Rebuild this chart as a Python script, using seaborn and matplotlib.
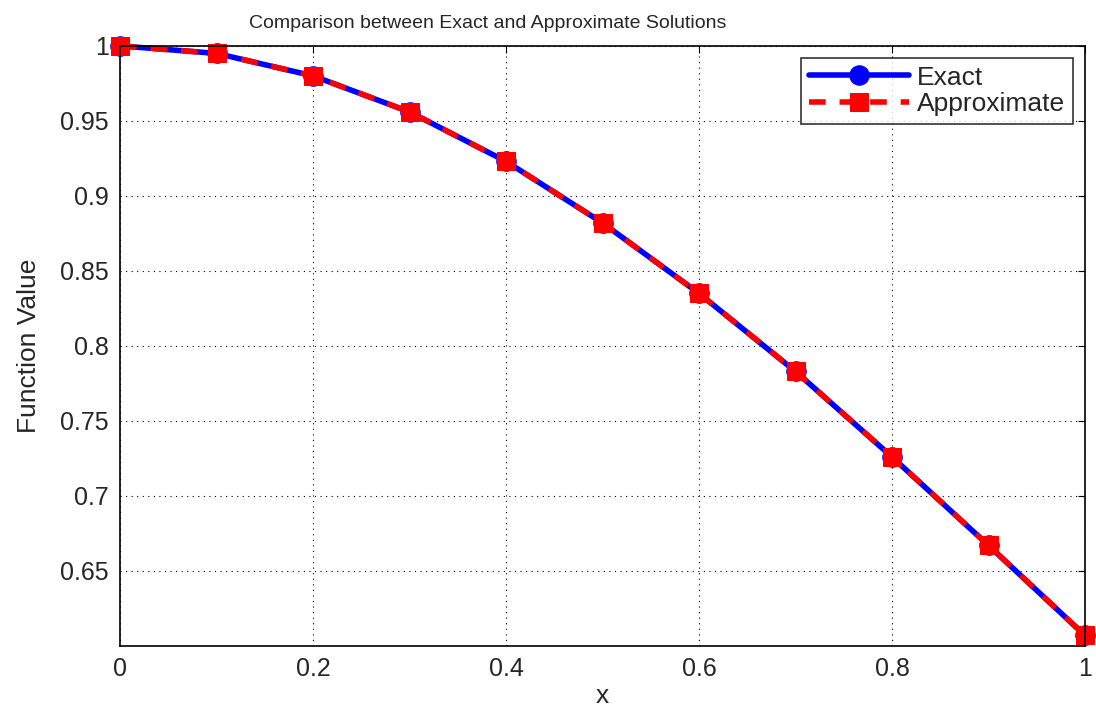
import matplotlib
matplotlib.use("Agg")
import matplotlib.pyplot as plt
import seaborn as sns
import pandas as pd

x_vals = [0.0, 0.1, 0.2, 0.3, 0.4, 0.5, 0.6, 0.7, 0.8, 0.9, 1.0]
exact_vals = [1.000, 0.995, 0.980, 0.956, 0.923, 0.882, 0.835, 0.783, 0.726, 0.667, 0.607]
approx_vals = [1.000, 0.995, 0.980, 0.956, 0.923, 0.882, 0.835, 0.783, 0.726, 0.667, 0.607]
x_ticks = [0, 0.2, 0.4, 0.6, 0.8, 1]
x_tick_labels = ["0", "0.2", "0.4", "0.6", "0.8", "1"]
y_ticks = [0.65, 0.7, 0.75, 0.8, 0.85, 0.9, 0.95, 1]
y_tick_labels = ["0.65", "0.7", "0.75", "0.8", "0.85", "0.9", "0.95", "1"]

sns.set_style("white")
plt.rcParams['font.family'] = ['Liberation Sans', 'DejaVu Sans']

fig = plt.figure(figsize=(10.96, 7.06), dpi=100)
ax = fig.add_axes([0.1095, 0.085, 0.8805, 0.85])

df_e = pd.DataFrame({"x": x_vals, "y": exact_vals})
df_a = pd.DataFrame({"x": x_vals, "y": approx_vals})

sns.lineplot(data=df_e, x="x", y="y", ax=ax, color="#0000ff", linewidth=4,
             marker="o", markersize=14, markeredgecolor="#0000ff",
             markerfacecolor="#0000ff", label="Exact", clip_on=False)
sns.lineplot(data=df_a, x="x", y="y", ax=ax, color="#ff0000", linewidth=4,
             linestyle=(0, (3, 2.5)), marker="s", markersize=13,
             markeredgecolor="#ff0000", markerfacecolor="#ff0000",
             label="Approximate", clip_on=False)

ax.set_xlim(0, 1)
ax.set_ylim(0.6, 1)
ax.set_xticks(x_ticks)
ax.set_xticklabels(x_tick_labels)
ax.set_yticks(y_ticks)
ax.set_yticklabels(y_tick_labels)
ax.tick_params(direction="in", length=5, labelsize=18, top=True, right=True,
               color="black", pad=8)
ax.grid(True, linestyle=(0, (1, 4)), color="black", linewidth=0.8)
for s in ax.spines.values():
    s.set_color("black")
    s.set_linewidth(1.2)
    s.set_visible(True)

ax.set_xlabel("x", fontsize=19, labelpad=2)
ax.set_ylabel("Function Value", fontsize=19, labelpad=14)
fig.text(0.445, 0.955, "Comparison between Exact and Approximate Solutions",
         fontsize=14, ha="center", va="bottom")

leg = ax.legend(loc="upper right", fontsize=19, frameon=True, fancybox=False,
                edgecolor="black", handlelength=3.8, borderaxespad=0.45,
                labelspacing=0.1, handletextpad=0.3, borderpad=0.3,
                bbox_to_anchor=(1.0, 1.0))
leg.get_frame().set_linewidth(1.2)

fig.savefig("out.png", dpi=100)
